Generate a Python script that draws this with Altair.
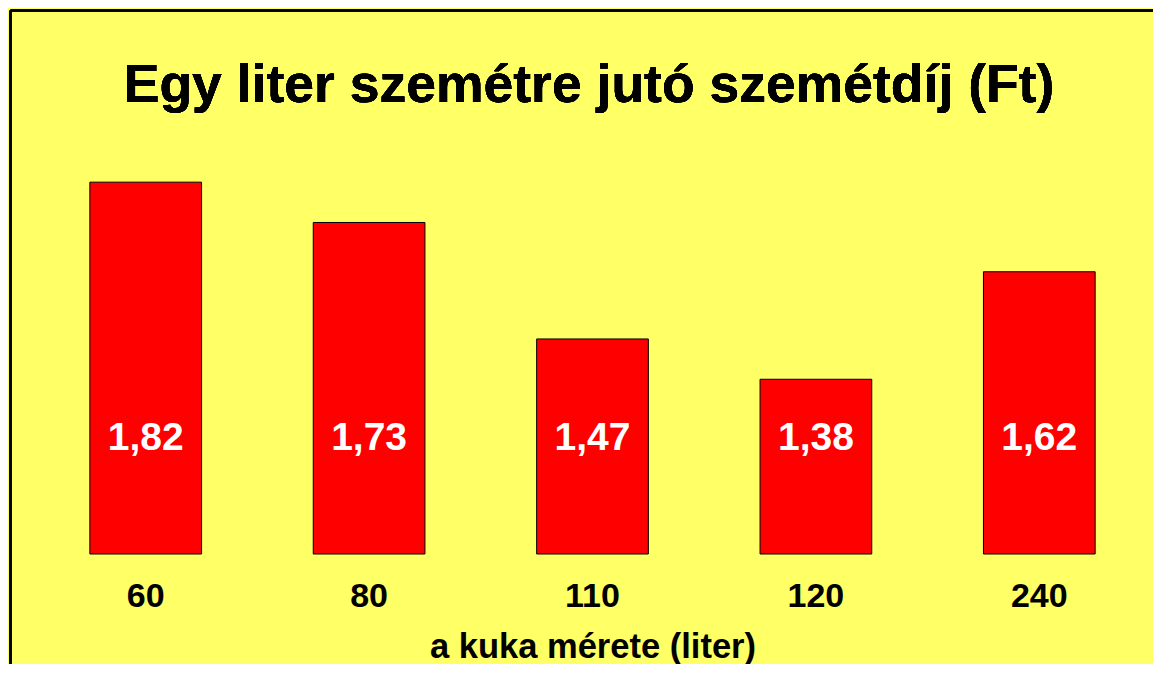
import altair as alt
import pandas as pd

sizes = ["60", "80", "110", "120", "240"]
fees = [1.82, 1.73, 1.47, 1.38, 1.62]
fee_labels = ["1,82", "1,73", "1,47", "1,38", "1,62"]

df = pd.DataFrame({"size": sizes, "fee": fees, "label": fee_labels})

FONT = "Liberation Sans"
W, H = 1117, 448
BASE = 0.99

x_enc = alt.X(
    "size:N",
    sort=sizes,
    scale=alt.Scale(paddingInner=0.5, paddingOuter=0.25),
    axis=alt.Axis(
        title="a kuka mérete (liter)",
        labelAngle=0,
        labelFont=FONT,
        labelFontSize=34,
        labelFontWeight="bold",
        labelColor="black",
        labelPadding=25,
        ticks=False,
        tickSize=0,
        domain=False,
        grid=False,
        titleFont=FONT,
        titleFontSize=34.5,
        titleFontWeight="bold",
        titleColor="black",
        titleBaseline="alphabetic",
        titleY=103,
    ),
)

y_scale = alt.Scale(domain=[BASE, BASE + 1], nice=False, zero=False)

base = alt.Chart(df)

bars = base.mark_bar(color="#FF0000", stroke="black", strokeWidth=1).encode(
    x=x_enc,
    y=alt.Y("fee:Q", scale=y_scale, axis=None),
    y2=alt.datum(BASE),
)

labels = base.mark_text(
    font=FONT, fontSize=39, fontWeight="bold", color="white", baseline="middle"
).encode(
    x=alt.X("size:N", sort=sizes),
    y=alt.datum(1.25),
    text="label:N",
)

title = alt.Chart(df).mark_text(
    text="Egy liter szemétre jutó szemétdíj (Ft)",
    font=FONT, fontSize=53.5, fontWeight="bold", color="black",
    baseline="alphabetic", align="center",
).encode(x=alt.value(555), y=alt.value(-4))

border_top = alt.Chart(df).mark_rule(color="black", strokeWidth=2).encode(
    x=alt.value(-23.5), x2=alt.value(W + 100), y=alt.value(-95.5)
)
border_left = alt.Chart(df).mark_rule(color="black", strokeWidth=2).encode(
    x=alt.value(-23.5), y=alt.value(-95.5), y2=alt.value(H + 200)
)

chart = (
    alt.layer(bars, labels, title, border_top, border_left)
    .properties(
        width=W,
        height=H,
        background="#FFFF66",
        padding={"left": 26, "top": 98, "right": 2, "bottom": 110},
        autosize=alt.AutoSizeParams(type="none"),
    )
    .configure_view(stroke=None)
)

chart.save("out.html", embed_options={"renderer": "svg", "actions": False})
